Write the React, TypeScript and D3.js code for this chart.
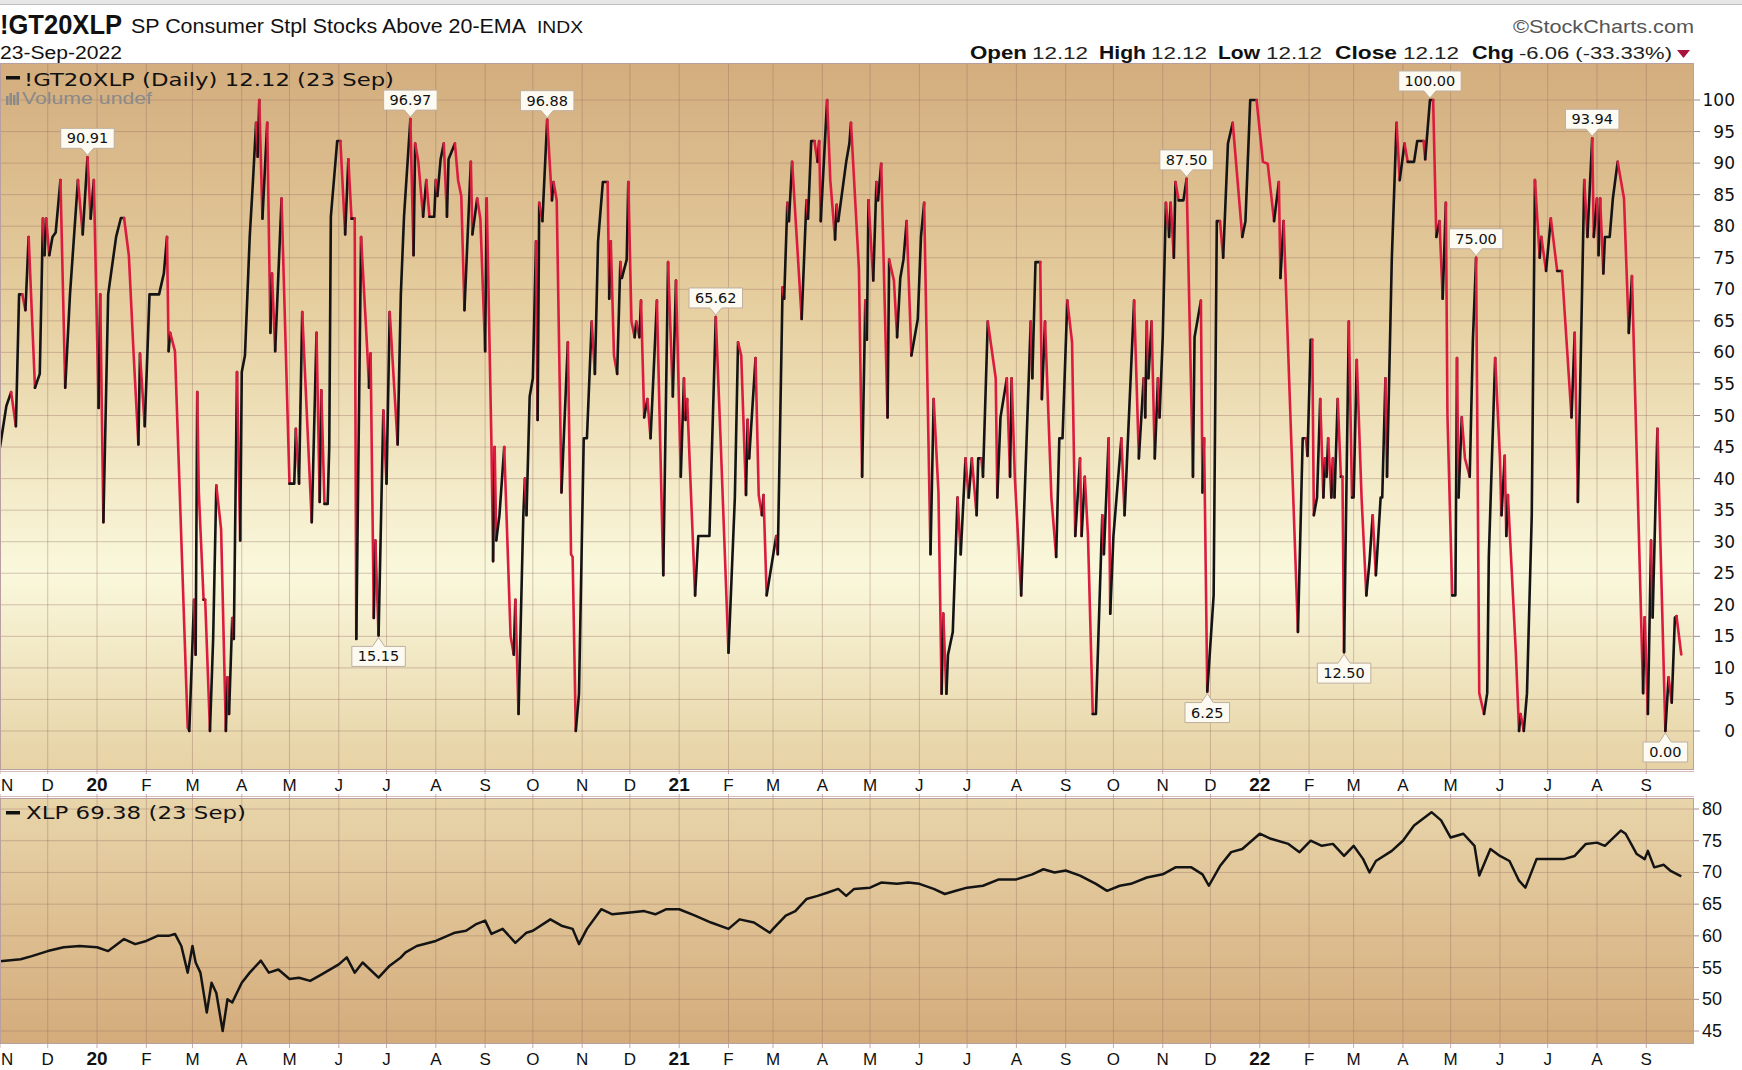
import React from 'react';
import * as d3 from 'd3';

type Pt = [string, number];

// ---------- DATA ----------
const gt2019: Pt[] = [
  ['2019-11-01', 45], ['2019-11-05', 51.5], ['2019-11-08', 53.7], ['2019-11-11', 48.3], ['2019-11-13', 69.2],
  ['2019-11-15', 69.2], ['2019-11-17', 66.7], ['2019-11-19', 78.3], ['2019-11-23', 54.4], ['2019-11-26', 56.6],
  ['2019-11-28', 81.2], ['2019-11-29', 75.4], ['2019-11-30', 81.2], ['2019-12-02', 75.4], ['2019-12-04', 78.3],
  ['2019-12-06', 79], ['2019-12-09', 87.3], ['2019-12-12', 54.4], ['2019-12-15', 69.2], ['2019-12-20', 87.3],
  ['2019-12-23', 78.7], ['2019-12-26', 90.91], ['2019-12-28', 81.2], ['2019-12-30', 87.3],
];
const gt2020: Pt[] = [
  ['2020-01-02', 51.2], ['2020-01-03', 69.2], ['2020-01-05', 33.1], ['2020-01-08', 69.2], ['2020-01-13', 78.3],
  ['2020-01-16', 81.3], ['2020-01-18', 81.3], ['2020-01-21', 75.4], ['2020-01-24', 59.8], ['2020-01-27', 45.4],
  ['2020-01-28', 59.8], ['2020-01-31', 48.3], ['2020-02-03', 69.2], ['2020-02-09', 69.2], ['2020-02-12', 72.5],
  ['2020-02-14', 78.3], ['2020-02-15', 60.2], ['2020-02-16', 63.1], ['2020-02-19', 60.2], ['2020-02-27', 0.5],
  ['2020-02-28', 0], ['2020-03-02', 20.8], ['2020-03-03', 12.1], ['2020-03-04', 53.7], ['2020-03-05', 37.8],
  ['2020-03-08', 20.8], ['2020-03-09', 20.8], ['2020-03-12', 0], ['2020-03-14', 14.6], ['2020-03-16', 38.9],
  ['2020-03-19', 32], ['2020-03-22', 0], ['2020-03-23', 8.5], ['2020-03-24', 2.7], ['2020-03-26', 17.9],
  ['2020-03-27', 14.6], ['2020-03-29', 56.9], ['2020-03-31', 30.2], ['2020-04-01', 56.9], ['2020-04-03', 59.5],
  ['2020-04-06', 78.3], ['2020-04-08', 87], ['2020-04-10', 96.4], ['2020-04-11', 91], ['2020-04-12', 100],
  ['2020-04-14', 81.2], ['2020-04-17', 96.4], ['2020-04-19', 63.1], ['2020-04-20', 72.5], ['2020-04-22', 60.2],
  ['2020-04-26', 84.4], ['2020-05-01', 39.2], ['2020-05-04', 39.2], ['2020-05-05', 47.9], ['2020-05-07', 39.2],
  ['2020-05-09', 66.4], ['2020-05-15', 33.1], ['2020-05-18', 63.1], ['2020-05-20', 36.3], ['2020-05-21', 54],
  ['2020-05-23', 36], ['2020-05-25', 36], ['2020-05-26', 45], ['2020-05-27', 81.5], ['2020-05-31', 93.5],
  ['2020-06-02', 93.5], ['2020-06-05', 78.7], ['2020-06-07', 90.6], ['2020-06-09', 81.2], ['2020-06-11', 81.2],
  ['2020-06-12', 14.6], ['2020-06-15', 78.3], ['2020-06-19', 59.8], ['2020-06-20', 54.4], ['2020-06-21', 59.8],
  ['2020-06-23', 17.9], ['2020-06-24', 30.2], ['2020-06-26', 15.15], ['2020-06-29', 50.8], ['2020-07-01', 39.2],
  ['2020-07-03', 66.4], ['2020-07-08', 45.4], ['2020-07-10', 69.2], ['2020-07-12', 81.5], ['2020-07-16', 96.97],
  ['2020-07-18', 75.4], ['2020-07-19', 93.1], ['2020-07-21', 90.2], ['2020-07-24', 81.5], ['2020-07-26', 87.3],
  ['2020-07-28', 81.5], ['2020-07-31', 81.5], ['2020-08-01', 87.3], ['2020-08-02', 84.8], ['2020-08-04', 90.6],
  ['2020-08-06', 93.1], ['2020-08-08', 81.5], ['2020-08-09', 90.6], ['2020-08-13', 93.1], ['2020-08-15', 87.3],
  ['2020-08-17', 84.8], ['2020-08-19', 66.7], ['2020-08-23', 90.2], ['2020-08-24', 78.7], ['2020-08-27', 84.4],
  ['2020-08-29', 81.2], ['2020-09-01', 60.2], ['2020-09-02', 84.4], ['2020-09-05', 45], ['2020-09-06', 26.9],
  ['2020-09-07', 45], ['2020-09-08', 30.2], ['2020-09-10', 34.2], ['2020-09-13', 45], ['2020-09-17', 15],
  ['2020-09-19', 12.1], ['2020-09-20', 20.8], ['2020-09-22', 2.7], ['2020-09-25', 34.2], ['2020-09-26', 40],
  ['2020-09-27', 34.2], ['2020-09-29', 53], ['2020-10-01', 55.9], ['2020-10-03', 77.6], ['2020-10-04', 49.3],
  ['2020-10-05', 83.7], ['2020-10-07', 80.8], ['2020-10-10', 96.88], ['2020-10-13', 84.1], ['2020-10-14', 87],
  ['2020-10-16', 84.1], ['2020-10-19', 37.8], ['2020-10-23', 61.6], ['2020-10-25', 28], ['2020-10-26', 27.6],
  ['2020-10-28', 0], ['2020-10-30', 5.9], ['2020-11-02', 46.4], ['2020-11-04', 46.4], ['2020-11-07', 64.9],
  ['2020-11-09', 56.6], ['2020-11-11', 77.6], ['2020-11-14', 87], ['2020-11-17', 87], ['2020-11-18', 68.5],
  ['2020-11-19', 77.6], ['2020-11-21', 59.5], ['2020-11-23', 56.6], ['2020-11-25', 74.3], ['2020-11-26', 71.8],
  ['2020-11-29', 74.7], ['2020-11-30', 87], ['2020-12-02', 64.9], ['2020-12-04', 62.4], ['2020-12-05', 64.9],
  ['2020-12-07', 62.4], ['2020-12-08', 68.2], ['2020-12-10', 49.7], ['2020-12-12', 52.6], ['2020-12-14', 46.4],
  ['2020-12-18', 68.2], ['2020-12-22', 24.7], ['2020-12-25', 74.3], ['2020-12-28', 53], ['2020-12-30', 71.4],
];
const gt2021: Pt[] = [
  ['2021-01-02', 40.3], ['2021-01-04', 55.9], ['2021-01-05', 49.3], ['2021-01-06', 52.6], ['2021-01-11', 21.5],
  ['2021-01-13', 30.9], ['2021-01-20', 30.9], ['2021-01-24', 65.62], ['2021-01-27', 46.4], ['2021-02-01', 12.4],
  ['2021-02-05', 37], ['2021-02-07', 61.6], ['2021-02-09', 59.5], ['2021-02-12', 37.4], ['2021-02-13', 49.3],
  ['2021-02-14', 43.2], ['2021-02-18', 59.1], ['2021-02-20', 37.4], ['2021-02-22', 34.2], ['2021-02-23', 37.4],
  ['2021-02-25', 21.5], ['2021-03-03', 30.9], ['2021-03-04', 28], ['2021-03-07', 70.3], ['2021-03-08', 68.5],
  ['2021-03-10', 83.7], ['2021-03-11', 80.8], ['2021-03-13', 90.2], ['2021-03-19', 65.3], ['2021-03-22', 84.1],
  ['2021-03-23', 81.2], ['2021-03-25', 93.5], ['2021-03-27', 93.5], ['2021-03-29', 90.2], ['2021-03-30', 93.5],
  ['2021-03-31', 80.8], ['2021-04-04', 100], ['2021-04-06', 87.3], ['2021-04-09', 77.9], ['2021-04-10', 83.4],
  ['2021-04-11', 80.8], ['2021-04-16', 90.2], ['2021-04-18', 93.1], ['2021-04-19', 96.4], ['2021-04-24', 73.2],
  ['2021-04-26', 40.3], ['2021-04-28', 68.2], ['2021-04-29', 62], ['2021-04-30', 84.1], ['2021-05-03', 71.4],
  ['2021-05-05', 87], ['2021-05-06', 84.1], ['2021-05-08', 89.9], ['2021-05-12', 49.7], ['2021-05-13', 74.7],
  ['2021-05-16', 71.4], ['2021-05-18', 62.4], ['2021-05-20', 71.8], ['2021-05-22', 74.7], ['2021-05-24', 80.8],
  ['2021-05-27', 59.5], ['2021-05-29', 62.4], ['2021-05-31', 65.3], ['2021-06-02', 78.3], ['2021-06-04', 83.7],
  ['2021-06-08', 28], ['2021-06-10', 52.6], ['2021-06-13', 37.8], ['2021-06-15', 5.9], ['2021-06-16', 18.6],
  ['2021-06-18', 5.9], ['2021-06-19', 12.1], ['2021-06-22', 15.7], ['2021-06-25', 37], ['2021-06-27', 28],
  ['2021-06-30', 43.2], ['2021-07-02', 37], ['2021-07-04', 43.2], ['2021-07-07', 34.2], ['2021-07-08', 43.2],
  ['2021-07-10', 43.2], ['2021-07-11', 40.3], ['2021-07-14', 64.9], ['2021-07-19', 55.9], ['2021-07-20', 37],
  ['2021-07-22', 49.7], ['2021-07-26', 55.9], ['2021-07-28', 40.3], ['2021-07-29', 55.9], ['2021-07-31', 40.3],
  ['2021-08-04', 21.5], ['2021-08-10', 64.9], ['2021-08-11', 55.9], ['2021-08-13', 74.3], ['2021-08-16', 74.3],
  ['2021-08-17', 52.6], ['2021-08-19', 64.9], ['2021-08-23', 37], ['2021-08-26', 27.6], ['2021-08-28', 46.4],
  ['2021-08-30', 46.4], ['2021-09-02', 68.2], ['2021-09-05', 61.6], ['2021-09-07', 30.9], ['2021-09-10', 43.2],
  ['2021-09-11', 30.9], ['2021-09-13', 40.3], ['2021-09-15', 30.9], ['2021-09-18', 2.7], ['2021-09-20', 2.7],
  ['2021-09-24', 34.2], ['2021-09-25', 28], ['2021-09-28', 46.4], ['2021-09-29', 18.6], ['2021-10-01', 30.9],
  ['2021-10-06', 46.4], ['2021-10-08', 34.2], ['2021-10-14', 68.2], ['2021-10-17', 43.2], ['2021-10-20', 55.9],
  ['2021-10-21', 49.7], ['2021-10-22', 64.9], ['2021-10-23', 55.9], ['2021-10-25', 64.9], ['2021-10-27', 43.2],
  ['2021-10-29', 55.9], ['2021-10-30', 49.7], ['2021-11-01', 62.4], ['2021-11-03', 83.7], ['2021-11-05', 78.3],
  ['2021-11-06', 83.7], ['2021-11-08', 75], ['2021-11-09', 87], ['2021-11-11', 84.1], ['2021-11-14', 84.1],
  ['2021-11-16', 87.5], ['2021-11-20', 40.3], ['2021-11-21', 62.4], ['2021-11-25', 68.2], ['2021-11-26', 37.8],
  ['2021-11-27', 46.4], ['2021-11-29', 6.25], ['2021-12-03', 21.5], ['2021-12-05', 80.8], ['2021-12-07', 80.8],
  ['2021-12-09', 75], ['2021-12-12', 93.1], ['2021-12-15', 96.4], ['2021-12-21', 78.3], ['2021-12-23', 80.8],
  ['2021-12-26', 100], ['2021-12-30', 100],
];
const gt2022: Pt[] = [
  ['2022-01-03', 90.2], ['2022-01-06', 89.9], ['2022-01-10', 80.8], ['2022-01-13', 87], ['2022-01-14', 71.8],
  ['2022-01-16', 80.8], ['2022-01-25', 15.7], ['2022-01-28', 46.4], ['2022-01-30', 46.4], ['2022-01-31', 43.6],
  ['2022-02-02', 62], ['2022-02-03', 62], ['2022-02-04', 34.2], ['2022-02-06', 37], ['2022-02-08', 52.6],
  ['2022-02-10', 37], ['2022-02-11', 43.2], ['2022-02-12', 40.3], ['2022-02-13', 46.4], ['2022-02-15', 37],
  ['2022-02-16', 43.2], ['2022-02-17', 37], ['2022-02-19', 52.6], ['2022-02-21', 40.3], ['2022-02-22', 40.3],
  ['2022-02-23', 12.5], ['2022-02-26', 64.9], ['2022-02-28', 37], ['2022-03-01', 37], ['2022-03-03', 58.8],
  ['2022-03-06', 37], ['2022-03-09', 21.5], ['2022-03-11', 26.9], ['2022-03-13', 34.2], ['2022-03-15', 24.7],
  ['2022-03-18', 37], ['2022-03-19', 37], ['2022-03-21', 55.9], ['2022-03-22', 40.3], ['2022-03-25', 74.7],
  ['2022-03-28', 96.4], ['2022-03-30', 87.3], ['2022-04-02', 93.1], ['2022-04-04', 90.2], ['2022-04-08', 90.2],
  ['2022-04-10', 93.5], ['2022-04-14', 93.5], ['2022-04-15', 90.6], ['2022-04-18', 100], ['2022-04-20', 100],
  ['2022-04-22', 78.3], ['2022-04-24', 80.8], ['2022-04-26', 68.5], ['2022-04-28', 83.7], ['2022-04-29', 50],
  ['2022-05-02', 21.5], ['2022-05-04', 21.5], ['2022-05-05', 59.1], ['2022-05-06', 37], ['2022-05-08', 49.7],
  ['2022-05-10', 43.2], ['2022-05-13', 40.3], ['2022-05-15', 62], ['2022-05-17', 75], ['2022-05-19', 6],
  ['2022-05-22', 2.7], ['2022-05-24', 6], ['2022-05-25', 27.6], ['2022-05-29', 59.1], ['2022-06-01', 43.2],
  ['2022-06-02', 34.2], ['2022-06-04', 43.6], ['2022-06-05', 30.9], ['2022-06-06', 37.4], ['2022-06-11', 12.4],
  ['2022-06-13', 0], ['2022-06-14', 2.7], ['2022-06-16', 0], ['2022-06-18', 6], ['2022-06-21', 34.2],
  ['2022-06-23', 87.3], ['2022-06-26', 75], ['2022-06-27', 78.3], ['2022-06-30', 72.9], ['2022-07-03', 81.2],
  ['2022-07-07', 72.9], ['2022-07-10', 72.9], ['2022-07-16', 49.7], ['2022-07-18', 63.1], ['2022-07-20', 36.3],
  ['2022-07-24', 87.3], ['2022-07-26', 78.3], ['2022-07-29', 93.94], ['2022-07-30', 78.3], ['2022-08-01', 84.4],
  ['2022-08-02', 75.4], ['2022-08-03', 84.4], ['2022-08-05', 72.5], ['2022-08-06', 78.3], ['2022-08-09', 78.3],
  ['2022-08-11', 84.4], ['2022-08-14', 90.2], ['2022-08-18', 84.4], ['2022-08-21', 63.1], ['2022-08-23', 72.1],
  ['2022-08-30', 6], ['2022-08-31', 18], ['2022-09-02', 2.7], ['2022-09-04', 30.2], ['2022-09-05', 18],
  ['2022-09-08', 47.9], ['2022-09-13', 0], ['2022-09-15', 8.5], ['2022-09-17', 4.5], ['2022-09-19', 18],
  ['2022-09-20', 18.2], ['2022-09-23', 12.12],
];

const xlp2019: Pt[] = [
  ['2019-11-01', 56.0], ['2019-11-14', 56.3], ['2019-11-21', 56.8], ['2019-12-01', 57.6], ['2019-12-11', 58.2],
  ['2019-12-21', 58.4],
];
const xlp2020: Pt[] = [
  ['2020-01-01', 58.2], ['2020-01-08', 57.6], ['2020-01-18', 59.5], ['2020-01-25', 58.7], ['2020-02-01', 59.2],
  ['2020-02-08', 60.0], ['2020-02-15', 60.0], ['2020-02-19', 60.3], ['2020-02-23', 58.4], ['2020-02-27', 54.2],
  ['2020-03-01', 58.4], ['2020-03-03', 55.8], ['2020-03-06', 54.2], ['2020-03-10', 47.9], ['2020-03-13', 52.6],
  ['2020-03-16', 51.0], ['2020-03-20', 45.0], ['2020-03-23', 50.0], ['2020-03-26', 49.5], ['2020-04-01', 52.6],
  ['2020-04-06', 54.2], ['2020-04-13', 56.1], ['2020-04-18', 54.2], ['2020-04-24', 54.7], ['2020-05-01', 53.2],
  ['2020-05-07', 53.4], ['2020-05-14', 52.9], ['2020-05-21', 53.9], ['2020-06-01', 55.5], ['2020-06-06', 56.6],
  ['2020-06-11', 54.2], ['2020-06-16', 55.8], ['2020-06-26', 53.4], ['2020-07-03', 55.3], ['2020-07-10', 56.6],
  ['2020-07-13', 57.4], ['2020-07-20', 58.4], ['2020-08-01', 59.2], ['2020-08-13', 60.5], ['2020-08-20', 60.8],
  ['2020-08-26', 61.8], ['2020-09-01', 62.4], ['2020-09-05', 60.3], ['2020-09-12', 61.1], ['2020-09-20', 58.9],
  ['2020-09-27', 60.5], ['2020-10-01', 60.8], ['2020-10-12', 62.6], ['2020-10-19', 61.6], ['2020-10-26', 61.1],
  ['2020-10-30', 58.7], ['2020-11-04', 61.1], ['2020-11-13', 64.2], ['2020-11-20', 63.4], ['2020-12-01', 63.7],
  ['2020-12-10', 63.9], ['2020-12-17', 63.4], ['2020-12-24', 64.2],
];
const xlp2021: Pt[] = [
  ['2021-01-01', 64.2], ['2021-01-11', 63.2], ['2021-01-21', 62.1], ['2021-02-01', 61.1], ['2021-02-08', 62.6],
  ['2021-02-17', 62.1], ['2021-02-27', 60.5], ['2021-03-01', 61.1], ['2021-03-09', 63.2], ['2021-03-15', 63.9],
  ['2021-03-22', 65.8], ['2021-03-29', 66.3], ['2021-04-04', 66.8], ['2021-04-11', 67.4], ['2021-04-16', 66.3],
  ['2021-04-21', 67.4], ['2021-05-01', 67.6], ['2021-05-08', 68.4], ['2021-05-18', 68.2], ['2021-05-25', 68.4],
  ['2021-06-01', 68.2], ['2021-06-10', 67.4], ['2021-06-17', 66.6], ['2021-06-24', 67.1], ['2021-07-01', 67.6],
  ['2021-07-11', 67.9], ['2021-07-21', 68.9], ['2021-08-01', 68.9], ['2021-08-11', 69.7], ['2021-08-18', 70.5],
  ['2021-08-25', 70.0], ['2021-09-01', 70.3], ['2021-09-10', 69.5], ['2021-09-20', 68.2], ['2021-09-27', 67.1],
  ['2021-10-05', 67.9], ['2021-10-12', 68.2], ['2021-10-22', 69.2], ['2021-11-01', 69.7], ['2021-11-09', 70.8],
  ['2021-11-19', 70.8], ['2021-11-26', 69.7], ['2021-11-30', 67.9], ['2021-12-07', 71.0], ['2021-12-14', 73.2],
  ['2021-12-21', 73.7],
];
const xlp2022: Pt[] = [
  ['2022-01-01', 76.1], ['2022-01-08', 75.3], ['2022-01-19', 74.5], ['2022-01-26', 73.2], ['2022-02-02', 75.0],
  ['2022-02-09', 74.2], ['2022-02-16', 74.5], ['2022-02-23', 72.6], ['2022-03-01', 74.2], ['2022-03-07', 72.1],
  ['2022-03-11', 70.0], ['2022-03-15', 71.8], ['2022-03-25', 73.4], ['2022-04-01', 75.0], ['2022-04-08', 77.4],
  ['2022-04-19', 79.5], ['2022-04-25', 78.2], ['2022-05-01', 75.5], ['2022-05-09', 76.1], ['2022-05-16', 74.2],
  ['2022-05-19', 69.5], ['2022-05-26', 73.7], ['2022-06-01', 72.6], ['2022-06-07', 71.8], ['2022-06-13', 68.7],
  ['2022-06-17', 67.6], ['2022-06-24', 72.1], ['2022-07-01', 72.1], ['2022-07-11', 72.1], ['2022-07-18', 72.6],
  ['2022-07-25', 74.5], ['2022-08-01', 74.7], ['2022-08-06', 74.2], ['2022-08-16', 76.6], ['2022-08-19', 76.1],
  ['2022-08-26', 72.9], ['2022-08-31', 72.1], ['2022-09-02', 73.4], ['2022-09-06', 70.8], ['2022-09-12', 71.2],
  ['2022-09-16', 70.3], ['2022-09-23', 69.38],
];

const gtTickValues = [0, 5, 10, 15, 20, 25, 30, 35, 40, 45, 50, 55, 60, 65, 70, 75, 80, 85, 90, 95, 100];
const xlpTickValues = [45, 50, 55, 60, 65, 70, 75, 80];
const monthLetters = ['J', 'F', 'M', 'A', 'M', 'J', 'J', 'A', 'S', 'O', 'N', 'D'];

const callouts: { date: string; value: number; side: 'up' | 'down' }[] = [
  { date: '2019-12-26', value: 90.91, side: 'up' },
  { date: '2020-06-26', value: 15.15, side: 'down' },
  { date: '2020-07-16', value: 96.97, side: 'up' },
  { date: '2020-10-10', value: 96.88, side: 'up' },
  { date: '2021-01-24', value: 65.62, side: 'up' },
  { date: '2021-11-16', value: 87.5, side: 'up' },
  { date: '2021-11-29', value: 6.25, side: 'down' },
  { date: '2022-02-23', value: 12.5, side: 'down' },
  { date: '2022-04-18', value: 100, side: 'up' },
  { date: '2022-05-17', value: 75, side: 'up' },
  { date: '2022-07-29', value: 93.94, side: 'up' },
  { date: '2022-09-13', value: 0, side: 'down' },
];

const ohlcLabels = ['Open', 'High', 'Low', 'Close', 'Chg'];
const ohlcValues = ['12.12', '12.12', '12.12', '12.12', '-6.06 (-33.33%)'];

// ---------- LAYOUT ----------
const W = 1742;
const H = 1070;
const PL = 0;
const PR = 1694;
const TOP_T = 63;
const TOP_B = 770;
const BOT_T = 798;
const BOT_B = 1044;
const RED = '#dc1c3e';
const BLACK = '#141414';
const GRID = 'rgba(150,110,100,0.38)';
const BORDER = '#b9a0a0';
const NARROW = "'Liberation Sans Narrow', 'Arial Narrow', 'Liberation Sans', Arial, sans-serif";
const SANS = "'DejaVu Sans', Verdana, sans-serif";

type D = { date: Date; value: number };

export default function App() {
  const parse = d3.timeParse('%Y-%m-%d');
  const toD = (arr: Pt[]): D[] => arr.map(([d, v]) => ({ date: parse(d) as Date, value: v }));
  const gt = toD([...gt2019, ...gt2020, ...gt2021, ...gt2022]);
  const xlp = toD([...xlp2019, ...xlp2020, ...xlp2021, ...xlp2022]);

  const x = d3.scaleTime().domain([new Date(2019, 10, 1), new Date(2022, 9, 1)]).range([PL, PR]);
  const yTop = d3.scaleLinear().domain([0, 100]).range([731, 100]);
  const yBot = d3.scaleLinear().domain([45, 80]).range([1031, 809]);
  const months = d3.timeMonth.range(new Date(2019, 10, 1), new Date(2022, 9, 1));

  const lineTop = d3.line<D>().x((d) => x(d.date)).y((d) => yTop(d.value));
  const lineBot = d3.line<D>().x((d) => x(d.date)).y((d) => yBot(d.value));

  // up/down colored runs
  const runs: { color: string; pts: D[] }[] = [];
  for (let i = 1; i < gt.length; i++) {
    const color = gt[i].value >= gt[i - 1].value ? BLACK : RED;
    const last = runs[runs.length - 1];
    if (!last || last.color !== color) runs.push({ color, pts: [gt[i - 1], gt[i]] });
    else last.pts.push(gt[i]);
  }

  const monthLabel = (m: Date) =>
    m.getMonth() === 0 ? String(m.getFullYear() % 100).padStart(2, '0') : monthLetters[m.getMonth()];

  const axisBand = (yBase: number) =>
    months.map((m, i) => (
      <text
        key={i}
        x={i === 0 ? 1 : x(m)}
        y={yBase}
        textAnchor={i === 0 ? 'start' : 'middle'}
        fontFamily={NARROW}
        fontSize={m.getMonth() === 0 ? 19 : 17}
        fontWeight={m.getMonth() === 0 ? 'bold' : 'normal'}
        fill="#111"
      >
        {monthLabel(m)}
      </text>
    ));

  const ohlcX = [970, 1099, 1218, 1335, 1472];
  const ohlcLen = [57, 47, 42, 62, 42];
  const ohlcValX = [1032, 1151, 1266, 1403, 1519];
  const ohlcValLen = [56, 56, 56, 56, 153];

  return (
    <svg
      width={W}
      height={H}
      viewBox={`0 0 ${W} ${H}`}
      style={{ position: 'absolute', left: 0, top: 0, display: 'block', background: '#fff' }}
    >
      <defs>
        <linearGradient id="gTop" x1="0" y1="0" x2="0" y2="1">
          <stop offset="0" stopColor="#d3ad7e" />
          <stop offset="0.35" stopColor="#e6cfa0" />
          <stop offset="0.72" stopColor="#faf8dc" />
          <stop offset="1" stopColor="#e6d2a4" />
        </linearGradient>
        <linearGradient id="gBot" x1="0" y1="0" x2="0" y2="1">
          <stop offset="0" stopColor="#e8d5aa" />
          <stop offset="1" stopColor="#d4ab7b" />
        </linearGradient>
        <clipPath id="clipTop">
          <rect x={PL} y={TOP_T} width={PR - PL} height={TOP_B - TOP_T} />
        </clipPath>
        <clipPath id="clipBot">
          <rect x={PL} y={BOT_T} width={PR - PL} height={BOT_B - BOT_T} />
        </clipPath>
      </defs>

      {/* top grey bar */}
      <rect x={0} y={0} width={W} height={4} fill="#e6e6e6" />
      <line x1={0} x2={W} y1={4.5} y2={4.5} stroke="#bdbdbd" />

      {/* header */}
      <text x={0} y={34} fontFamily={NARROW} fontWeight="bold" fontSize={27} textLength={122} lengthAdjust="spacingAndGlyphs" fill="#111">
        !GT20XLP
      </text>
      <text x={131} y={33} fontFamily={NARROW} fontSize={20} textLength={395} lengthAdjust="spacingAndGlyphs" fill="#111">
        SP Consumer Stpl Stocks Above 20-EMA
      </text>
      <text x={537} y={33} fontFamily={NARROW} fontSize={16} textLength={46} lengthAdjust="spacingAndGlyphs" fill="#111">
        INDX
      </text>
      <text x={0} y={59} fontFamily={NARROW} fontSize={18} textLength={122} lengthAdjust="spacingAndGlyphs" fill="#111">
        23-Sep-2022
      </text>
      <text x={1513} y={33} fontFamily={NARROW} fontSize={19} textLength={181} lengthAdjust="spacingAndGlyphs" fill="#555">
        ©StockCharts.com
      </text>
      {ohlcLabels.map((l, i) => (
        <g key={l}>
          <text x={ohlcX[i]} y={59} fontFamily={NARROW} fontWeight="bold" fontSize={19} textLength={ohlcLen[i]} lengthAdjust="spacingAndGlyphs" fill="#111">
            {l}
          </text>
          <text x={ohlcValX[i]} y={59} fontFamily={NARROW} fontSize={17} textLength={ohlcValLen[i]} lengthAdjust="spacingAndGlyphs" fill="#222">
            {ohlcValues[i]}
          </text>
        </g>
      ))}
      <path d="M1677,50 L1690,50 L1683.5,58 Z" fill="#a8123c" />

      {/* ---------- TOP PANEL ---------- */}
      <rect x={PL} y={TOP_T} width={PR - PL} height={TOP_B - TOP_T} fill="url(#gTop)" />
      {gtTickValues.map((t) => (
        <line key={t} x1={PL} x2={PR} y1={yTop(t)} y2={yTop(t)} stroke={GRID} strokeWidth={1} />
      ))}
      {months.map((m, i) => (
        <line key={i} x1={x(m)} x2={x(m)} y1={TOP_T} y2={TOP_B} stroke={GRID} strokeWidth={1} />
      ))}
      <g clipPath="url(#clipTop)">
        {runs.map((r, i) => (
          <path
            key={i}
            d={lineTop(r.pts) || ''}
            fill="none"
            stroke={r.color}
            strokeWidth={2.6}
            strokeLinejoin="round"
            strokeLinecap="round"
          />
        ))}
      </g>
      <rect x={PL + 0.5} y={TOP_T + 0.5} width={PR - PL - 1} height={TOP_B - TOP_T - 1} fill="none" stroke={BORDER} />

      {/* legend top */}
      <rect x={6} y={76} width={14} height={3.5} fill="#111" />
      <text x={24} y={86} fontFamily={SANS} fontSize={17} textLength={370} lengthAdjust="spacingAndGlyphs" fill="#111">
        !GT20XLP (Daily) 12.12 (23 Sep)
      </text>
      <g fill="#8a8a8a">
        <rect x={6} y={96} width={2.5} height={9} />
        <rect x={9.5} y={93} width={2.5} height={12} />
        <rect x={13} y={95} width={2.5} height={10} />
        <rect x={16.5} y={92} width={2.5} height={13} />
      </g>
      <text x={22} y={104} fontFamily={NARROW} fontSize={17} textLength={130} lengthAdjust="spacingAndGlyphs" fill="#8a8a8a">
        Volume undef
      </text>

      {/* callouts */}
      {callouts.map((c, i) => {
        const cx = x(parse(c.date) as Date);
        const cy = yTop(c.value);
        const label = c.value.toFixed(2);
        const w = label.length * 8.9 + 9;
        const h = 20;
        const x0 = cx - w / 2;
        const x1 = cx + w / 2;
        let d: string;
        let ty: number;
        if (c.side === 'up') {
          const yb = cy - 9;
          const yt = yb - h;
          d = `M${x0},${yt} H${x1} V${yb} H${cx + 6} L${cx},${cy - 2} L${cx - 6},${yb} H${x0} Z`;
          ty = yt + 15;
        } else {
          const yt = cy + 11;
          const yb = yt + h;
          d = `M${x0},${yt} H${cx - 6} L${cx},${cy + 2} L${cx + 6},${yt} H${x1} V${yb} H${x0} Z`;
          ty = yt + 15;
        }
        return (
          <g key={i}>
            <path d={d} fill="#fcfaf1" stroke="#bfae9e" strokeWidth={1} />
            <text x={cx} y={ty} textAnchor="middle" fontFamily={SANS} fontSize={14.5} fill="#111">
              {label}
            </text>
          </g>
        );
      })}

      {/* right axis top */}
      {gtTickValues.map((t) => (
        <g key={t}>
          <line x1={PR} x2={PR + 6} y1={yTop(t)} y2={yTop(t)} stroke="#a08c8c" />
          <text x={1735} y={yTop(t) + 6} textAnchor="end" fontFamily={SANS} fontSize={17} fill="#111">
            {t}
          </text>
        </g>
      ))}

      {/* axis band between panels */}
      <rect x={PL} y={TOP_B} width={PR - PL} height={BOT_T - TOP_B} fill="#fff" />
      <line x1={PL} x2={PR} y1={TOP_B + 1.5} y2={TOP_B + 1.5} stroke="#d8b8b8" />
      <line x1={PL} x2={PR} y1={BOT_T - 1.5} y2={BOT_T - 1.5} stroke="#d8b8b8" />
      {months.map((m, i) => (
        <g key={i}>
          <line x1={x(m)} x2={x(m)} y1={TOP_B} y2={TOP_B + 4} stroke="#c9a9a9" />
          <line x1={x(m)} x2={x(m)} y1={BOT_T - 4} y2={BOT_T} stroke="#c9a9a9" />
        </g>
      ))}
      {axisBand(791)}

      {/* ---------- BOTTOM PANEL ---------- */}
      <rect x={PL} y={BOT_T} width={PR - PL} height={BOT_B - BOT_T} fill="url(#gBot)" />
      {xlpTickValues.map((t) => (
        <line key={t} x1={PL} x2={PR} y1={yBot(t)} y2={yBot(t)} stroke={GRID} strokeWidth={1} />
      ))}
      {months.map((m, i) => (
        <line key={i} x1={x(m)} x2={x(m)} y1={BOT_T} y2={BOT_B} stroke={GRID} strokeWidth={1} />
      ))}
      <g clipPath="url(#clipBot)">
        <path d={lineBot(xlp) || ''} fill="none" stroke={BLACK} strokeWidth={2.5} strokeLinejoin="round" />
      </g>
      <rect x={PL + 0.5} y={BOT_T + 0.5} width={PR - PL - 1} height={BOT_B - BOT_T - 1} fill="none" stroke={BORDER} />
      <rect x={6} y={811} width={14} height={3.5} fill="#111" />
      <text x={26} y={819} fontFamily={SANS} fontSize={17} textLength={220} lengthAdjust="spacingAndGlyphs" fill="#111">
        XLP 69.38 (23 Sep)
      </text>
      {xlpTickValues.map((t) => (
        <g key={t}>
          <line x1={PR} x2={PR + 5} y1={yBot(t)} y2={yBot(t)} stroke="#a08c8c" />
          <text x={1722} y={yBot(t) + 6} textAnchor="end" fontFamily={NARROW} fontSize={18} fill="#111">
            {t}
          </text>
        </g>
      ))}

      {/* bottom axis */}
      {months.map((m, i) => (
        <line key={i} x1={x(m)} x2={x(m)} y1={BOT_B} y2={BOT_B + 4} stroke="#c9a9a9" />
      ))}
      {axisBand(1065)}
    </svg>
  );
}
